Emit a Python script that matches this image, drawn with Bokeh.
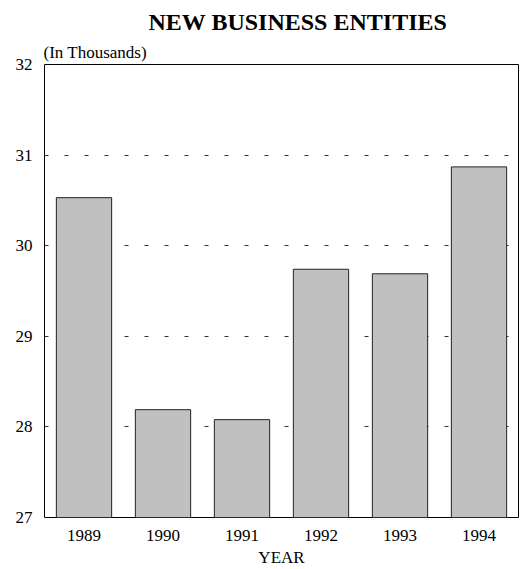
from bokeh.plotting import figure
from bokeh.models import Range1d, FixedTicker, Title
from bokeh.embed import file_html
from bokeh.resources import INLINE

years = ["1989", "1990", "1991", "1992", "1993", "1994"]
values = [30.53, 28.19, 28.08, 29.74, 29.69, 30.87]
y_ticks = [27, 28, 29, 30, 31, 32]
y_min, y_max = 27, 32

FONT = "Liberation Serif"

p = figure(x_range=years, y_range=Range1d(y_min, y_max), width=524, height=569,
           output_backend="svg", toolbar_location=None, title=None,
           min_border_left=44, min_border_right=6, min_border_top=64, min_border_bottom=49)

p.vbar(x=years, top=values, bottom=y_min, width=0.70,
       fill_color="#c0c0c0", line_color="#222222", line_width=1)

sub = Title(text="(In Thousands)", align="left", offset=-1,
            text_font=FONT, text_font_size="17px", text_font_style="normal",
            text_color="black", standoff=5)
p.add_layout(sub, "above")
main = Title(text="NEW BUSINESS ENTITIES", align="left", offset=104,
             text_font=FONT, text_font_size="24px", text_font_style="bold",
             text_color="black", standoff=8)
p.add_layout(main, "above")

p.outline_line_color = "black"
p.outline_line_width = 1
p.outline_line_alpha = 1
p.background_fill_color = "white"
p.border_fill_color = "white"

p.xgrid.grid_line_color = None
p.ygrid.grid_line_color = "#333333"
p.ygrid.grid_line_dash = "4 16"
p.ygrid.grid_line_width = 1

p.yaxis.ticker = FixedTicker(ticks=y_ticks)
p.yaxis.axis_line_color = None
p.yaxis.major_tick_line_color = None
p.yaxis.minor_tick_line_color = None
p.yaxis.major_label_text_font = FONT
p.yaxis.major_label_text_font_size = "17px"
p.yaxis.major_label_text_color = "black"
p.yaxis.major_label_standoff = 6

p.xaxis.axis_line_color = None
p.xaxis.major_tick_line_color = None
p.xaxis.minor_tick_line_color = None
p.xaxis.major_label_text_font = FONT
p.xaxis.major_label_text_font_size = "17px"
p.xaxis.major_label_text_color = "black"
p.xaxis.major_label_standoff = 6
p.xaxis.axis_label = "YEAR"
p.xaxis.axis_label_text_font = FONT
p.xaxis.axis_label_text_font_size = "17px"
p.xaxis.axis_label_text_font_style = "normal"
p.xaxis.axis_label_text_color = "black"
p.xaxis.axis_label_standoff = 4

open("out.html", "w").write(file_html(p, INLINE))
